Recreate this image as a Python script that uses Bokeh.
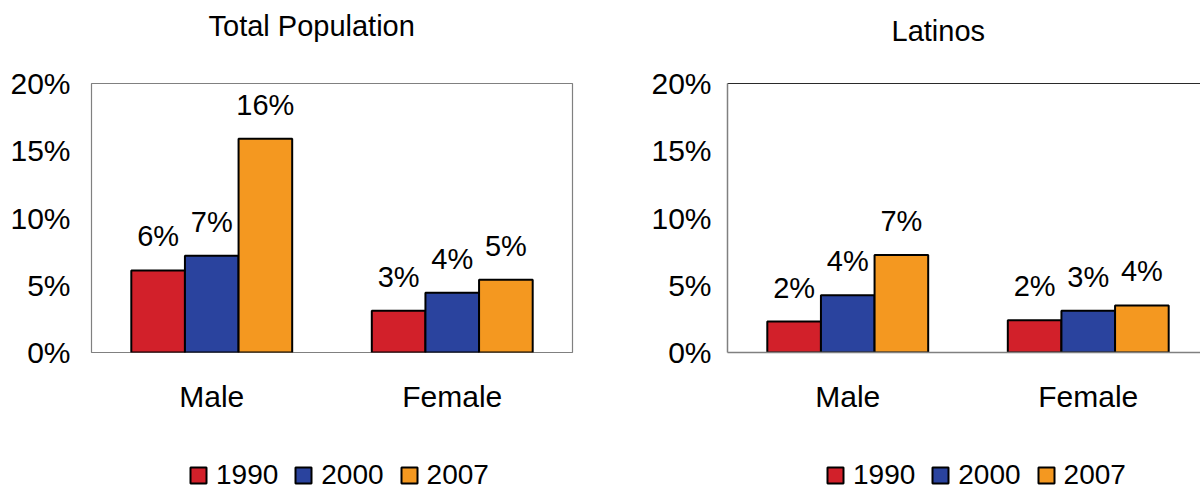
from bokeh.plotting import figure
from bokeh.models import Legend, LegendItem, FixedTicker, LinearAxis, Range1d, ColumnDataSource
from bokeh.layouts import row, column
from bokeh.core.properties import value
from bokeh.embed import file_html
from bokeh.resources import INLINE
import numpy as np

# ---- data ----
categories = ["Male", "Female"]
years = ["1990", "2000", "2007"]

total_1990 = [6.1, 3.1]
total_2000 = [7.2, 4.45]
total_2007 = [15.9, 5.4]
total_lbl_1990 = ["6%", "3%"]
total_lbl_2000 = ["7%", "4%"]
total_lbl_2007 = ["16%", "5%"]

latino_1990 = [2.3, 2.4]
latino_2000 = [4.25, 3.1]
latino_2007 = [7.25, 3.5]
latino_lbl_1990 = ["2%", "2%"]
latino_lbl_2000 = ["4%", "3%"]
latino_lbl_2007 = ["7%", "4%"]

y_ticks = [0, 5, 10, 15, 20]
y_tick_labels = ["0%", "5%", "10%", "15%", "20%"]

colors = ["#d2202a", "#2a439e", "#f49820"]
FONT = "Liberation Sans"

TITLE_H = 64
LEG_H = 59
CHART_H = 489 - TITLE_H - LEG_H


def make_title_fig(width, text, offset, standoff):
    t = figure(width=width, height=TITLE_H, output_backend="svg", toolbar_location=None,
               x_axis_type=None, y_axis_type=None, x_range=Range1d(0, 1), y_range=Range1d(0, 1),
               min_border=0, outline_line_color=None)
    t.xgrid.grid_line_color = None
    t.ygrid.grid_line_color = None
    t.title.text = text
    t.title.align = "left"
    t.title.vertical_align = "top"
    t.title.offset = offset
    t.title.standoff = standoff
    t.title.text_font = FONT
    t.title.text_font_size = "29px"
    t.title.text_font_style = "normal"
    t.title.text_color = "black"
    return t


def make_panel(series, labels, width, bl, bt, bb, br, x_end, ystandoff, left_outline):
    p = figure(width=width, height=CHART_H, output_backend="svg", toolbar_location=None,
               x_range=Range1d(0, x_end), y_range=Range1d(0, 20),
               min_border_left=bl, min_border_top=bt, min_border_bottom=bb,
               min_border_right=br)
    p.xgrid.grid_line_color = None
    p.ygrid.grid_line_color = None
    p.background_fill_color = "white"
    p.border_fill_color = "white"

    cat_x = np.arange(len(categories)) + 0.5
    bw = 0.223
    offsets = [-bw, 0.0, bw]
    for vals, lbls, c, off in zip(series, labels, colors, offsets):
        src = ColumnDataSource(dict(x=cat_x + off, top=vals, lbl=lbls))
        p.vbar(x="x", top="top", width=bw, bottom=0, source=src,
               fill_color=c, line_color="black", line_width=2)
        p.text(x="x", y="top", text="lbl", source=src, text_align="center",
               text_baseline="alphabetic", y_offset=-34,
               text_font=value(FONT), text_font_size="29px", text_color="black")

    p.yaxis.ticker = FixedTicker(ticks=y_ticks)
    p.yaxis.major_label_overrides = {t: l for t, l in zip(y_ticks, y_tick_labels)}
    p.xaxis.ticker = FixedTicker(ticks=list(cat_x))
    p.xaxis.major_label_overrides = {float(t): l for t, l in zip(cat_x, categories)}
    for ax in (p.xaxis[0], p.yaxis[0]):
        ax.major_tick_line_color = None
        ax.minor_tick_line_color = None
        ax.major_tick_out = 0
        ax.major_tick_in = 0
        ax.minor_tick_out = 0
        ax.major_label_text_font = FONT
        ax.major_label_text_font_size = "30px"
        ax.major_label_text_color = "black"
    p.yaxis.major_label_standoff = ystandoff
    p.xaxis.major_label_standoff = 27

    if left_outline:
        p.outline_line_color = "#808080"
        p.outline_line_width = 1.2
        p.xaxis.axis_line_color = None
        p.yaxis.axis_line_color = None
    else:
        p.outline_line_color = None
        p.xaxis.axis_line_color = "#808080"
        p.yaxis.axis_line_color = "#808080"
        p.xaxis.axis_line_width = 1.5
        p.yaxis.axis_line_width = 1.5
        top_ax = LinearAxis(ticker=FixedTicker(ticks=[]), major_label_text_font_size="0px",
                            major_tick_line_color=None, minor_tick_line_color=None,
                            major_tick_out=0, minor_tick_out=0, major_label_standoff=0,
                            axis_line_color="#2a2a2a", axis_line_width=1.2)
        p.add_layout(top_ax, "above")
    return p


def make_legend_fig(width, x_loc, y_loc):
    q = figure(width=width, height=LEG_H, output_backend="svg", toolbar_location=None,
               x_axis_type=None, y_axis_type=None, x_range=Range1d(0, width),
               y_range=Range1d(0, LEG_H), min_border=0, outline_line_color=None)
    q.xgrid.grid_line_color = None
    q.ygrid.grid_line_color = None
    items = []
    # small proxy bars that sit behind the opaque legend box; only swatches show
    proxy_x = x_loc + 140
    for y, c in zip(years, colors):
        r = q.vbar(x=[proxy_x], top=[15], bottom=[6], width=10, fill_color=c,
                   line_color="black", line_width=2)
        items.append(LegendItem(label=y, renderers=[r]))
    legend = Legend(items=items, location=(x_loc, y_loc), orientation="horizontal",
                    glyph_width=20, glyph_height=20, label_standoff=8, spacing=15,
                    padding=0, margin=0, border_line_color=None,
                    background_fill_color="white", background_fill_alpha=1.0,
                    label_text_font=FONT, label_text_font_size="28px", label_text_color="black")
    q.add_layout(legend)
    return q


title_left = make_title_fig(648, "Total Population", 208, 18)
title_right = make_title_fig(552, "Latinos", 243, 8)

left = make_panel([total_1990, total_2000, total_2007],
                  [total_lbl_1990, total_lbl_2000, total_lbl_2007],
                  width=648, bl=91, bt=83 - TITLE_H, bb=CHART_H - (352 - TITLE_H),
                  br=648 - 91 - 481, x_end=2.0, ystandoff=21, left_outline=True)
right = make_panel([latino_1990, latino_2000, latino_2007],
                   [latino_lbl_1990, latino_lbl_2000, latino_lbl_2007],
                   width=552, bl=79, bt=80 - TITLE_H, bb=CHART_H - (353 - TITLE_H),
                   br=0, x_end=473 / 240.5, ystandoff=16, left_outline=False)

leg_left = make_legend_fig(648, 188, -2)
leg_right = make_legend_fig(552, 825 - 648, -2)

layout = column(row(title_left, title_right), row(left, right), row(leg_left, leg_right))
open("out.html", "w").write(file_html(layout, INLINE))
